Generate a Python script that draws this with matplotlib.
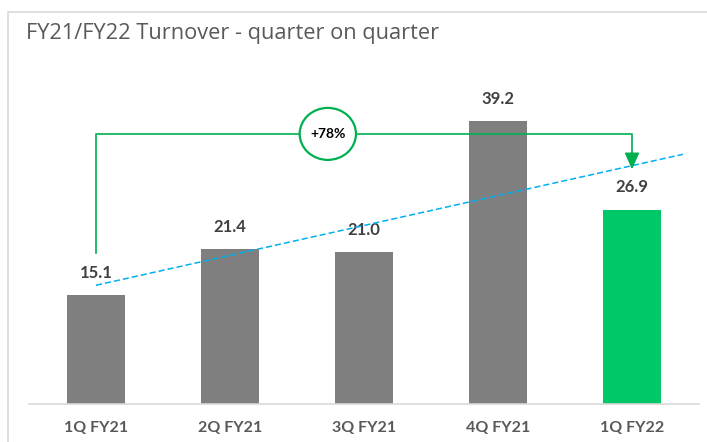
import matplotlib
matplotlib.use("Agg")
import matplotlib.pyplot as plt
from matplotlib.patches import Ellipse, Rectangle
import numpy as np

categories = ["1Q FY21", "2Q FY21", "3Q FY21", "4Q FY21", "1Q FY22"]
turnover = [15.1, 21.4, 21.0, 39.2, 26.9]
bar_colors = ["#7F7F7F", "#7F7F7F", "#7F7F7F", "#7F7F7F", "#00C767"]
title = "FY21/FY22 Turnover - quarter on quarter"


def main():
    W, H = 707, 442
    fig = plt.figure(figsize=(W / 100, H / 100), dpi=100)

    # light frame around the chart (right/bottom fall outside the picture)
    fig.patches.append(Rectangle((8 / W, -0.1), 1.2, (H - 12) / H + 0.1,
                                 transform=fig.transFigure, fill=False,
                                 edgecolor="#D9D9D9", linewidth=1.2))
    fig.text(26 / W, 1 - 34 / H, title, fontsize=15.7, color="#595959",
             family="Open Sans", va="center", ha="left")

    ax = fig.add_axes([29 / W, 38 / H, 670 / W, 325 / H])
    x = np.arange(len(categories))
    ax.bar(x, turnover, width=0.43, color=bar_colors, zorder=2)

    for xi, v in zip(x, turnover):
        ax.annotate(f"{v:.1f}", (xi, v), xytext=(0, 16), textcoords="offset points",
                    ha="center", va="center", fontsize=12, fontweight="bold",
                    color="#404040", family="Lato")

    # linear trend, forecast ~0.4 period forward
    k, b = np.polyfit(x, turnover, 1)
    tx = np.array([x[0], x[-1] + 0.38])
    ax.plot(tx, k * tx + b, color="#00B0F0", linestyle=(0, (4, 2)),
            linewidth=1.1, zorder=3)

    # growth bracket first -> last quarter
    green = "#00B050"
    top = 37.4
    ax.plot([x[0], x[0], x[-1], x[-1]],
            [turnover[0] + 5.8, top, top, top - 2.8],
            color=green, linewidth=1.2, zorder=4)
    ax.annotate("", xy=(x[-1], top - 4.9), xytext=(x[-1], top - 2.6),
                arrowprops=dict(arrowstyle="-|>,head_length=1.0,head_width=0.45",
                                color=green, lw=1.2, shrinkA=0, shrinkB=0),
                zorder=4)
    ex = 1.73
    ax.add_patch(Ellipse((ex, top), 0.42, 7.2, facecolor="white",
                         edgecolor=green, linewidth=1.6, zorder=5))
    pct = turnover[-1] / turnover[0] - 1
    ax.text(ex, top, f"+{pct * 100:.0f}%", ha="center", va="center",
            fontsize=10, fontweight="bold", color="black", family="Lato", zorder=6)

    ax.set_xlim(-0.5, len(categories) - 0.5)
    ax.set_ylim(0, 45)
    ax.set_xticks(x)
    ax.set_xticklabels(categories, fontsize=11.5, fontweight="bold",
                       color="#595959", family="Lato")
    ax.tick_params(axis="x", length=0, pad=12)
    ax.set_yticks([])
    for s in ["left", "right", "top"]:
        ax.spines[s].set_visible(False)
    ax.spines["bottom"].set_color("#D9D9D9")
    ax.spines["bottom"].set_linewidth(1.2)
    ax.patch.set_alpha(0)

    plt.savefig("out.png", dpi=100)


if __name__ == '__main__':
    main()
